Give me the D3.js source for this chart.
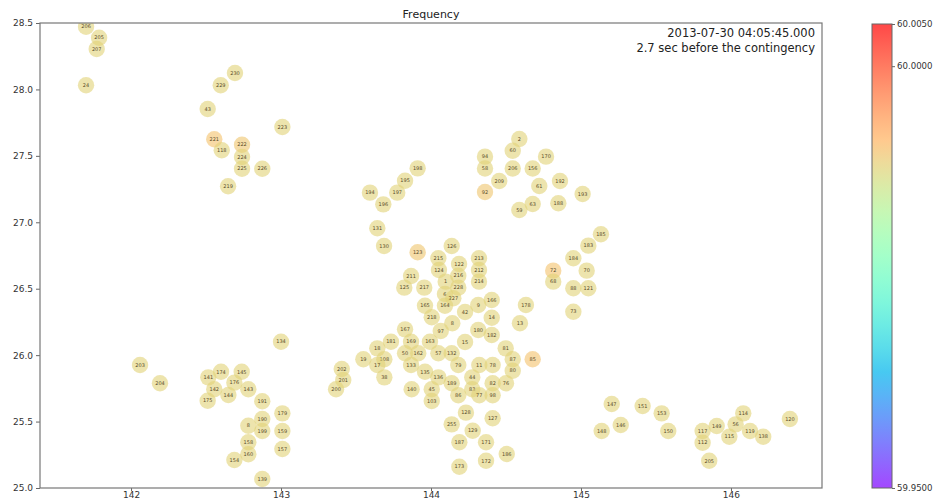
<!DOCTYPE html>
<html>
<head>
<meta charset="utf-8">
<script src="https://cdn.jsdelivr.net/npm/d3@7"></script>
<style>
  html, body { margin: 0; padding: 0; background: #fff; }
  svg { display: block; font-family: "DejaVu Sans", sans-serif; }
</style>
</head>
<body>
<svg id="chart" width="938" height="501"></svg>
<script>
// Bus identifiers, coordinates (lon/lat) and measured frequency (Hz)
const busIds = [
  "206","205","207","24","230","229","43","223","221","222","118","224","225","226","219",
  "134","203","204","141","174","145","176","142","144","143","175","191","179","190","8","199","159","158","157","160","154","139",
  "198","195","194","197","196","131","130",
  "123","126","215","122","213","124","216","212","211","214","1","125","217","228","6","227","166","9","165","164","42","218","14","8","167","97","180","182","181","169","163","15","81","18","50","162","57","132","19","108","87","85","17","133","79","11","78","202","80","135","38","136","44","201","189","82","76","200","140","45","83","86","77","98","103","128","127","255","129","187","171","186","172","173",
  "2","60","94","170","58","206","156","209","192","61","92","193","188","63","59",
  "185","183","184","72","70","68","88","121","178","73","13",
  "147","151","153","146","148","150","114","120","56","149","117","119","115","138","112","205"
];
const lons = [
  141.700,141.787,141.771,141.700,142.693,142.598,142.511,143.009,142.555,142.740,142.605,142.740,142.740,142.875,142.647,
  143.000,142.060,142.193,142.515,142.600,142.738,142.689,142.555,142.649,142.782,142.511,142.875,143.009,142.875,142.782,142.875,143.009,142.782,143.009,142.782,142.689,142.875,
  143.911,143.827,143.593,143.775,143.682,143.642,143.687,
  143.911,144.138,144.049,144.187,144.320,144.053,144.182,144.320,143.867,144.320,144.098,143.822,143.955,144.182,144.093,144.149,144.405,144.315,143.960,144.093,144.227,144.005,144.405,144.142,143.827,144.065,144.315,144.405,143.733,143.867,143.993,144.227,144.498,143.642,143.827,143.915,144.049,144.138,143.549,143.689,144.545,144.678,143.642,143.867,144.182,144.322,144.411,143.405,144.545,143.960,143.689,144.049,144.275,143.415,144.138,144.411,144.500,143.367,143.871,144.005,144.275,144.182,144.322,144.411,144.005,144.233,144.411,144.138,144.278,144.189,144.367,144.505,144.367,144.189,
  144.589,144.545,144.360,144.767,144.360,144.545,144.678,144.455,144.860,144.722,144.360,145.011,144.849,144.678,144.589,
  145.133,145.049,144.949,144.815,145.038,144.815,144.949,145.049,144.633,144.949,144.593,
  145.205,145.411,145.538,145.265,145.138,145.582,146.082,146.393,146.031,145.905,145.811,146.127,145.989,146.215,145.811,145.855
];
const lats = [
  28.472,28.389,28.304,28.031,28.124,28.031,27.853,27.717,27.625,27.584,27.542,27.491,27.403,27.403,27.271,
  26.101,25.926,25.788,25.833,25.875,25.875,25.793,25.743,25.700,25.743,25.657,25.653,25.562,25.519,25.469,25.429,25.429,25.344,25.294,25.254,25.211,25.068,
  27.406,27.313,27.223,27.223,27.135,26.955,26.821,
  26.774,26.821,26.729,26.686,26.729,26.641,26.598,26.641,26.596,26.553,26.553,26.508,26.508,26.508,26.460,26.428,26.415,26.377,26.372,26.372,26.325,26.285,26.282,26.240,26.194,26.182,26.189,26.152,26.101,26.101,26.101,26.099,26.051,26.051,26.014,26.014,26.014,26.014,25.969,25.969,25.969,25.969,25.926,25.926,25.926,25.926,25.926,25.896,25.883,25.875,25.833,25.833,25.833,25.813,25.788,25.788,25.788,25.743,25.743,25.743,25.743,25.698,25.698,25.698,25.655,25.567,25.525,25.479,25.431,25.344,25.344,25.256,25.205,25.160,
  27.627,27.539,27.494,27.494,27.405,27.405,27.405,27.311,27.311,27.273,27.228,27.213,27.143,27.138,27.092,
  26.910,26.824,26.729,26.636,26.636,26.553,26.503,26.503,26.377,26.327,26.240,
  25.632,25.617,25.562,25.474,25.429,25.429,25.562,25.519,25.479,25.467,25.429,25.429,25.386,25.386,25.341,25.205
];
// Measured frequency per bus (Hz); a few buses sit slightly higher
const freqs = busIds.map(() => 59.988);
const higherFreqBuses = { "221": 59.990, "222": 59.9895, "72": 59.990, "85": 59.990, "123": 59.9895, "92": 59.9895 };
busIds.forEach((id, i) => { if (higherFreqBuses[id] !== undefined) freqs[i] = higherFreqBuses[id]; });

const xTicks = [142, 143, 144, 145, 146];
const yTicks = [25.0, 25.5, 26.0, 26.5, 27.0, 27.5, 28.0, 28.5];
const cbTicks = [60.005, 60.0, 59.95];
const freqDomain = [59.95, 60.005];

const titleText = "Frequency";
const stampLines = ["2013-07-30 04:05:45.000", "2.7 sec before the contingency"];

// matplotlib-style "rainbow" colormap
function rainbow(t) {
  t = Math.max(0, Math.min(1, t));
  const r = Math.min(1, Math.abs(2 * t - 0.5));
  const g = Math.sin(Math.PI * t);
  const b = Math.cos(Math.PI * t / 2);
  return d3.rgb(r * 255, g * 255, b * 255);
}

const svg = d3.select("#chart");
const plot = { left: 40, right: 822, top: 23, bottom: 488 };

const x = d3.scaleLinear().domain([141.393, 146.607]).range([plot.left, plot.right]);
const y = d3.scaleLinear().domain([25.0, 28.5]).range([plot.bottom, plot.top]);
const norm = d3.scaleLinear().domain(freqDomain).range([0, 1]);

// clip for markers
const defs = svg.append("defs");
defs.append("clipPath").attr("id", "plotClip")
  .append("rect").attr("x", plot.left).attr("y", plot.top)
  .attr("width", plot.right - plot.left).attr("height", plot.bottom - plot.top);

// Markers
const pts = busIds.map((id, i) => ({ id, lon: lons[i], lat: lats[i], f: freqs[i] }));
const g = svg.append("g").attr("clip-path", "url(#plotClip)");
const nodes = g.selectAll("g.bus").data(pts).enter().append("g").attr("class", "bus")
  .attr("transform", d => `translate(${x(d.lon)},${y(d.lat)})`);
nodes.append("circle")
  .attr("r", 8.2)
  .attr("fill", d => rainbow(norm(d.f)))
  .attr("fill-opacity", 0.6);
nodes.append("text")
  .attr("text-anchor", "middle")
  .attr("dy", "0.35em")
  .attr("font-size", 5)
  .attr("fill", "#5a4b28")
  .text(d => d.id);

// Axes
const xAxis = svg.append("g").attr("transform", `translate(0,${plot.bottom})`)
  .call(d3.axisBottom(x).tickValues(xTicks).tickFormat(d3.format("d"))
    .tickSize(3).tickPadding(1).tickSizeOuter(0));
const yAxis = svg.append("g").attr("transform", `translate(${plot.left},0)`)
  .call(d3.axisLeft(y).tickValues(yTicks).tickFormat(d3.format(".1f"))
    .tickSize(4).tickPadding(3).tickSizeOuter(0));
[xAxis, yAxis].forEach(a => {
  a.select(".domain").remove();
  a.selectAll(".tick line").attr("stroke", "#666");
  a.selectAll(".tick text").attr("fill", "#333").attr("font-size", 9)
    .attr("font-family", "DejaVu Sans, sans-serif");
});

// Frame
svg.append("rect")
  .attr("x", plot.left).attr("y", plot.top)
  .attr("width", plot.right - plot.left).attr("height", plot.bottom - plot.top)
  .attr("fill", "none").attr("stroke", "#777").attr("stroke-width", 1.2);

// Title and time stamp
svg.append("text").attr("x", (plot.left + plot.right) / 2).attr("y", 18)
  .attr("text-anchor", "middle").attr("font-size", 11).attr("fill", "#222").text(titleText);
svg.append("g").selectAll("text").data(stampLines).enter().append("text")
  .attr("x", 815).attr("y", (d, i) => 37 + i * 15)
  .attr("text-anchor", "end").attr("font-size", 11.5).attr("fill", "#222")
  .text(d => d);

// Colorbar
const cb = { x: 872, w: 20, top: 24, bottom: 488 };
const cbScale = d3.scaleLinear().domain(freqDomain).range([cb.bottom, cb.top]);
const grad = defs.append("linearGradient").attr("id", "cbGrad")
  .attr("x1", 0).attr("y1", 1).attr("x2", 0).attr("y2", 0);
d3.range(0, 1.0001, 0.05).forEach(t => {
  grad.append("stop").attr("offset", t).attr("stop-color", rainbow(t)).attr("stop-opacity", 0.72);
});
svg.append("rect").attr("x", cb.x).attr("y", cb.top).attr("width", cb.w)
  .attr("height", cb.bottom - cb.top).attr("fill", "url(#cbGrad)")
  .attr("stroke", "#666").attr("stroke-width", 1);
const cbAxis = svg.append("g").attr("transform", `translate(${cb.x + cb.w},0)`)
  .call(d3.axisRight(cbScale).tickValues(cbTicks).tickFormat(d3.format(".4f"))
    .tickSize(3).tickPadding(2).tickSizeOuter(0));
cbAxis.select(".domain").remove();
cbAxis.selectAll(".tick line").attr("stroke", "#666");
cbAxis.selectAll(".tick text").attr("fill", "#333").attr("font-size", 8.6)
  .attr("font-family", "DejaVu Sans, sans-serif");
</script>
</body>
</html>
